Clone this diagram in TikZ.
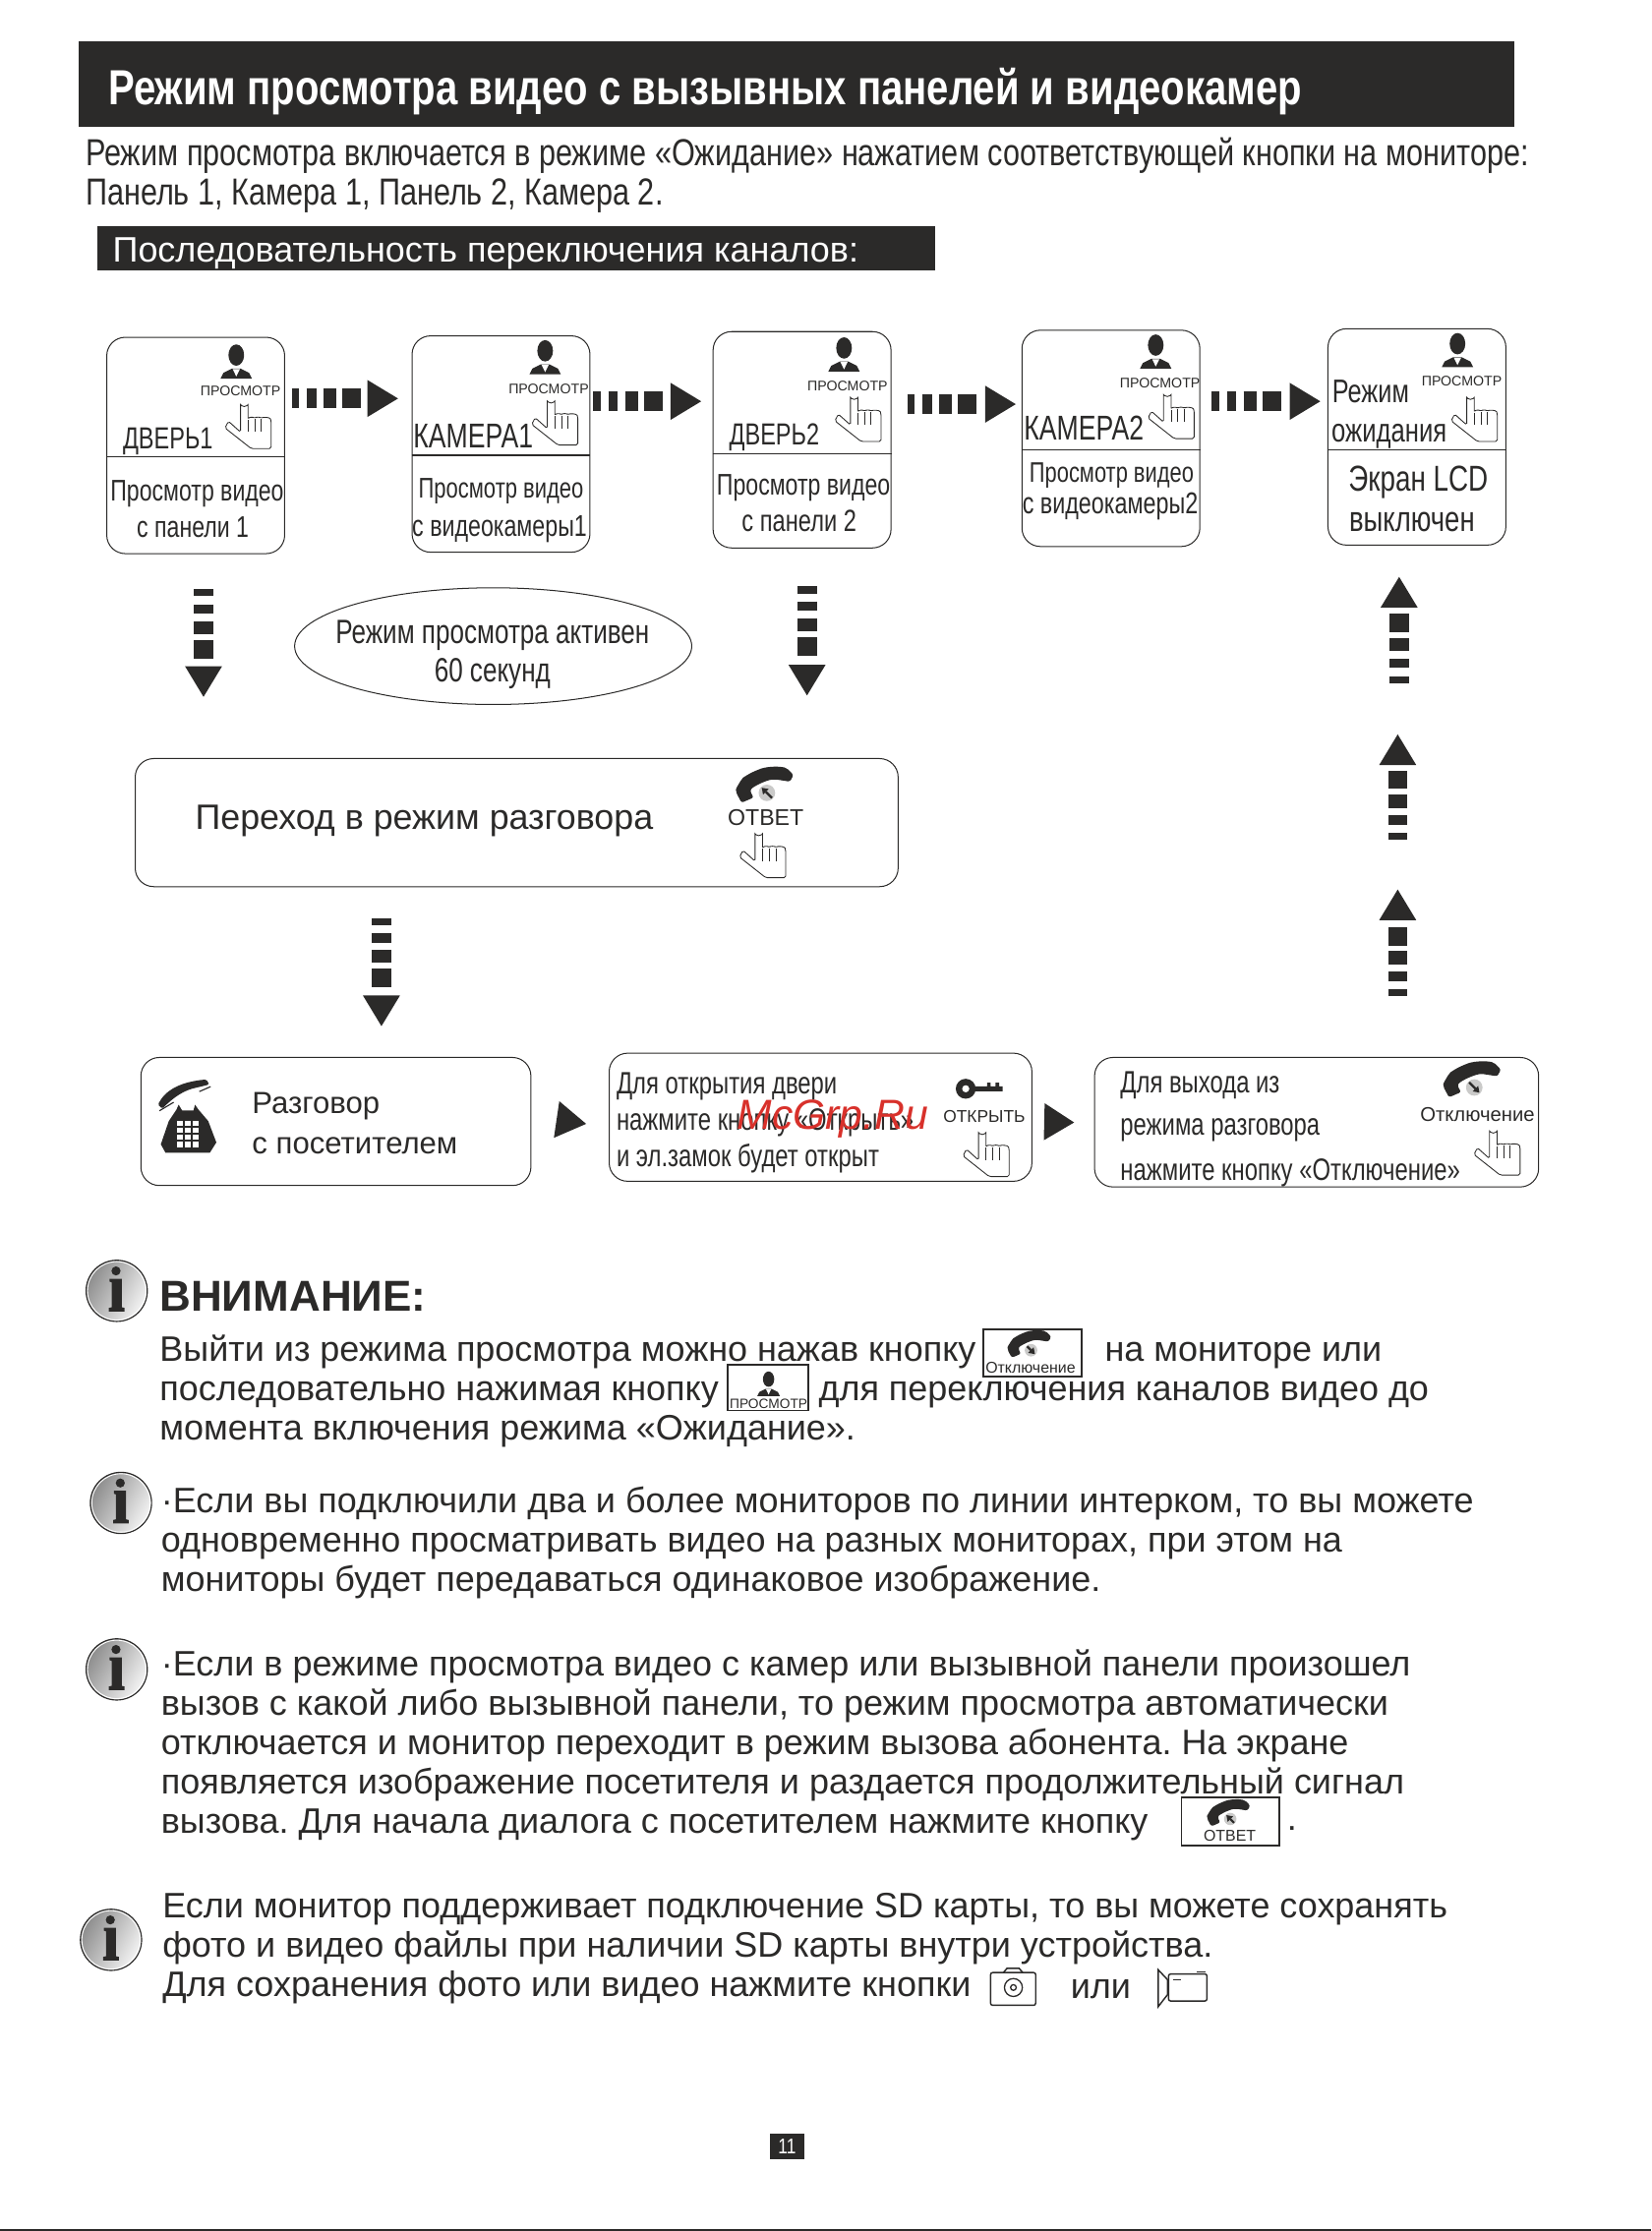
\documentclass[tikz,border=0pt]{standalone}
\usepackage{fontspec}
\setmainfont{Liberation Sans}
\newfontfamily\narrowf[FakeStretch=0.8]{Liberation Sans}
\newfontfamily\condf[FakeStretch=0.76]{Liberation Sans}
\frenchspacing
\usetikzlibrary{arrows.meta,shapes.geometric}
\definecolor{ink}{HTML}{2B2A29}
\definecolor{wmark}{HTML}{D8312B}
\tikzset{
  flowarrow/.style={draw=ink,line width=13.6pt,dash pattern=on 5pt off 5.6pt on 6.7pt off 5pt on 9.4pt off 4pt on 13pt off 30pt,
    -{Triangle[length=21.5pt,width=26pt,line width=0pt]}},
  tipconn/.style={draw=ink,line width=.1pt,dash pattern=on 0pt off 300pt,-{Triangle[length=21pt,width=26pt,line width=0pt]}},
  flowbox/.style={draw=ink,line width=.7pt,rounded corners=13pt,inner sep=0pt},
  btnbox/.style={draw=ink,line width=1.2pt,inner sep=0pt},
  nt/.style={text=ink,inner sep=0pt,yshift={-.1*#1},font=\condf\fontsize{#1}{#1}\selectfont},
  at/.style={text=ink,inner sep=0pt,yshift={-.1*#1},font=\fontsize{#1}{#1}\selectfont},
  para/.style={text=ink,inner sep=0pt,anchor=north west,align=left,font=\fontsize{24.85}{27.7}\selectfont},
  personicon/.pic={
    \fill[ink] (0,-5.5) ellipse (5.5 and 7.5);
    \fill[ink] (-11,11) -- (-9,7) -- (-3,4) -- (3,4) -- (9,7) -- (11,11) -- cycle;
    \fill[white] (-2.5,4.4) -- (2.5,4.4) -- (0,9.5) -- cycle;
  },
  handicon/.pic={
    \draw[ink,line width=.6pt,fill=white,rounded corners=1.2pt] (-2.5,4.1) -- (-2.5,-16.5) arc (180:0:2.65) -- (2.8,-4.6)
      .. controls (3.5,-6.5) and (6.5,-6.5) .. (7.4,-5) .. controls (8.2,-6.5) and (11.2,-6.5) .. (12,-5)
      .. controls (13,-6.5) and (18,-6.5) .. (19,-4) -- (19,15.7) -- (5,15.7) -- (-13.4,1.2) -- (-11,-3.5) -- cycle;
    \draw[ink,line width=.5pt] (2.8,-4.6) -- (2.8,4) (7.4,-5) -- (7.4,4) (12,-5) -- (12,4);
  },
  handseticon/.pic={
    \fill[ink,rounded corners=1.5pt] (20.5,-8.5) -- (15.5,-13.5) .. controls (8,-15) and (0,-14) .. (-4.6,-12)
      .. controls (-10,-10) and (-15,-6.5) .. (-16,-5.5) .. controls (-18,-2) and (-20,1) .. (-20,3.5) -- (-16,11) -- (-7.5,7.4)
      -- (-10,2.8) .. controls (-9,1) and (-7,-.3) .. (-5.8,-1) .. controls (-2,-3) and (3,-5) .. (7,-5.5) -- (18,-3.8) -- cycle;
    \fill[ink!25] (1.8,4.1) circle (5.8);
    \draw[ink,line width=1.5pt,-{Triangle[length=4pt,width=5.5pt,line width=0pt]}] (1.8-3.6*#1,4.1-3.6*#1) -- (1.8+3.6*#1,4.1+3.6*#1);
  },
  keyicon/.pic={
    \fill[ink,even odd rule] (0,0) circle (7) (0,0) circle (2.6);
    \fill[ink] (5,-1.7) rectangle (26,1.7) (15,-4.2) rectangle (17.5,0) (21,-4.2) rectangle (23.5,0);
  },
  phoneicon/.pic={
    \fill[ink] (-19,14) -- (-15.7,20) -- (15.4,20) -- (20,12.7) -- (14.3,-2.3) -- (7.4,-10.4) -- (5,-13.8)
      -- (3.9,-9.7) -- (-4,-9.7) -- (-6.5,-13.8) -- (-8,-10.4) -- (-13.4,-2.3) -- cycle;
    \foreach \r in {0,1,2,3}{\foreach \c in {0,1,2}{
      \fill[white] (-7.6+\c*5.6,-2.3+\r*4.9) rectangle ++(3.9,3.5);}}
    \fill[ink,rounded corners=1pt] (-21,-13.8) .. controls (-16,-24) and (-5,-30) .. (13,-31.5) -- (15,-28)
      -- (7,-26) .. controls (-3,-24) and (-10,-19) .. (-18,-11) -- cycle;
    \draw[ink,line width=.8pt] (-20,-9.5) -- (-10,-15.5) (8,-23) -- (16,-26.5);
  },
  infoicon/.pic={
    \shadedraw[draw=ink,line width=.8pt,left color=black!45,right color=black!4,shading angle=60] (0,0) circle (21.5);
    \draw[white,line width=.6pt] (0,0) circle (20.5);
    \fill[ink] (-.5,-14) circle (3.2);
    \fill[ink] (-5,-8.5) -- (3.5,-8.5) -- (3.5,11.5) -- (5.5,12) -- (5.5,14.5) -- (-5.5,14.5) -- (-5.5,12) -- (-3.5,11.5)
      -- (-3.5,-6) -- (-5,-6.5) -- cycle;
  }
}
\begin{document}
\begin{tikzpicture}[x=1pt,y=-1pt]
\useasboundingbox (0,0) rectangle (1160,1567.6);
\fill[ink] (0,1566.4) rectangle (1160,1567.6);
% headers
\node[fill=ink,inner sep=0pt,minimum width=1009pt,minimum height=60pt,anchor=north west] (titlebar) at (55,29) {};
\node[anchor=west,text=white,inner sep=0pt,font=\narrowf\bfseries\fontsize{34.6}{34.6}\selectfont] (title) at (76,64) {Режим просмотра видео с вызывных панелей и видеокамер};
\node[at=26.4,anchor=west,font=\narrowf\fontsize{26.45}{26.45}\selectfont] (introa) at (60,107) {Режим просмотра включается в режиме «Ожидание» нажатием соответствующей кнопки на мониторе:};
\node[at=26.4,anchor=west,font=\narrowf\fontsize{26.45}{26.45}\selectfont] (introb) at (60,135) {Панель 1, Камера 1, Панель 2, Камера 2.};
\node[fill=ink,inner sep=0pt,minimum width=589pt,minimum height=31pt,anchor=north west] (subbar) at (68,159) {};
\node[anchor=west,text=white,inner sep=0pt,font=\fontsize{24.85}{24.85}\selectfont] (subtitle) at (79,178) {Последовательность переключения каналов:};
% panels
\foreach \nm/\cx/\cy/\ry/\lx/\ly/\px/\py/\hx/\hy in {
  door1/137.5/313/321/169/274/166/255/171.5/299.5,
  cam1/352/312/320/385.5/272/383/252/387/297,
  door2/563.5/309/319/595.5/270/593/250/600/294.5,
  cam2/780.5/308/316/815/268/812/248/820/292.5,
  wait/995.5/307/316/1027/267/1024/247/1033/294.5}{
  \node[flowbox,minimum width=125pt,minimum height=152pt] (\nm) at (\cx,\cy) {};
  \draw[ink,line width=1pt] (\nm.west |- 0,\ry) -- (\nm.east |- 0,\ry);
  \pic at (\px,\py) {personicon};
  \pic at (\hx,\hy) {handicon};
  \node[at=9.8] (\nm lbl) at (\lx,\ly) {ПРОСМОТР};
}
\node[nt=21.4] (door1a) at (118,308) {ДВЕРЬ1};
\node[nt=21] (door1b) at (138.5,345) {Просмотр видео};
\node[nt=21] (door1c) at (135.5,368) {с панели 1};
\node[nt=24.2] (cam1a) at (332.5,304) {КАМЕРА1};
\node[nt=20] (cam1b) at (352,343) {Просмотр видео};
\node[nt=21.1] (cam1c) at (351,370) {с видеокамеры1};
\node[nt=21.4] (door2a) at (544,305) {ДВЕРЬ2};
\node[nt=21] (door2b) at (564.5,341) {Просмотр видео};
\node[nt=21.5] (door2c) at (561.5,364) {с панели 2};
\node[nt=24.2] (cam2a) at (761.5,298.5) {КАМЕРА2};
\node[nt=19.9] (cam2b) at (781,332) {Просмотр видео};
\node[nt=21.2] (cam2c) at (780,354) {с видеокамеры2};
\node[nt=23] (waita) at (963,273) {Режим};
\node[nt=23.3] (waitb) at (976,304) {ожидания};
\node[nt=25.3] (waitc) at (996.5,336.5) {Экран LCD};
\node[nt=25] (waitd) at (992,364) {выключен};
% arrows between panels
\draw[flowarrow,shorten <=4.5pt,shorten >=9.5pt] ([yshift=33pt]door1.east) -- ([yshift=32pt]cam1.west);
\draw[flowarrow,shorten <=2pt,shorten >=8pt] ([yshift=30pt]cam1.east) -- ([yshift=27pt]door2.west);
\draw[flowarrow,shorten <=11pt,shorten >=4pt] ([yshift=25pt]door2.east) -- ([yshift=24pt]cam2.west);
\draw[flowarrow,shorten <=8pt,shorten >=5pt] ([yshift=26pt]cam2.east) -- ([yshift=25pt]wait.west);
% middle
\node[ellipse,draw=ink,line width=.7pt,minimum width=279pt,minimum height=82pt,inner sep=0pt] (active) at (346.5,454) {};
\node[nt=23.7] (activea) at (346,444) {Режим просмотра активен};
\node[nt=23.7] (activeb) at (346,471) {60 секунд};
\node[flowbox,minimum width=536pt,minimum height=90pt] (talk) at (363,578) {};
\node[at=24.75,anchor=west] (talka) at (137,574) {Переход в режим разговора};
\pic at (537,553) {handseticon=-1};
\node[at=16] (talkb) at (538,573) {ОТВЕТ};
\pic at (533,601) {handicon};
\coordinate (dropa) at (143,389);
\coordinate (dropb) at (567,385);
\coordinate (dropc) at (268,623);
\draw[flowarrow,shorten <=25pt,shorten >=43pt] (dropa) -- (dropa |- talk.north);
\draw[flowarrow,shorten <=27pt,shorten >=44pt] (dropb) -- (dropb |- talk.north);
% bottom row
\node[flowbox,minimum width=274pt,minimum height=90pt] (visit) at (236,788) {};
\pic at (132,790) {phoneicon};
\node[at=21.5,anchor=west] (visita) at (177,775) {Разговор};
\node[at=21.5,anchor=west] (visitb) at (177,803) {с посетителем};
\node[flowbox,minimum width=297pt,minimum height=90pt] (open) at (576.5,785) {};
\node[nt=21.7,anchor=west] (opena) at (433,761) {Для открытия двери};
\node[nt=21.7,anchor=west] (openb) at (433,787) {нажмите кнопку «Открыть»};
\node[nt=21.7,anchor=west] (openc) at (433,812) {и эл.замок будет открыт};
\pic at (678.5,765) {keyicon};
\node[at=12] (openl) at (691.5,783.5) {ОТКРЫТЬ};
\pic at (690,811) {handicon};
\node[flowbox,minimum width=312pt,minimum height=91pt] (leave) at (925,788.5) {};
\node[nt=21.7,anchor=west] (leavea) at (787,760.5) {Для выхода из};
\node[nt=21.7,anchor=west] (leaveb) at (787,792) {режима разговора};
\node[nt=21.7,anchor=west] (leavec) at (787,822) {нажмите кнопку «Отключение»};
\pic at (1034,760) {handseticon=1};
\node[at=14] (leavel) at (1038,782) {Отключение};
\pic at (1049,810) {handicon};
\draw[flowarrow,shorten >=22pt] (dropc) ++(0,22) -- (268,743);
\draw[tipconn,shorten <=18pt,shorten >=16pt] ([yshift=4pt]visit.east) -- ([yshift=-7pt]open.west);
\draw[tipconn,shorten <=9pt,shorten >=14pt] ([yshift=-3pt]open.east) -- ([yshift=-0.5pt]leave.west);
\coordinate (risea) at (982,700);
\coordinate (riseb) at (982,590);
\coordinate (risec) at (983,480);
\draw[flowarrow] (risea) -- (982,625);
\draw[flowarrow] (riseb) -- (982,516);
\draw[flowarrow,shorten >=22pt] (risec) -- (risec |- wait.south);
\node[text=wmark,inner sep=0pt,font=\itshape\fontsize{29.5}{29.5}\selectfont] (wm) at (585,786) {McGrp.Ru};
% notes
\pic at (82,907) {infoicon};
\node[text=ink,inner sep=0pt,anchor=west,font=\bfseries\fontsize{30.4}{30.4}\selectfont] (warn) at (112,911) {ВНИМАНИЕ:};
\node[para] (notea) at (112,938) {Выйти из режима просмотра можно нажав кнопку\\последовательно нажимая кнопку\\момента включения режима «Ожидание».};
\node[at=24.85,anchor=west] (noteb) at (776,950) {на мониторе или};
\node[at=24.85,anchor=west] (notec) at (575,977.5) {для переключения каналов видео до};
\node[btnbox,minimum width=69pt,minimum height=33pt] (btna) at (725.5,950.5) {};
\pic[scale=.76] at (723,945.6) {handseticon=1};
\node[at=11] (btnat) at (724,960) {Отключение};
\node[btnbox,minimum width=57pt,minimum height=32pt] (btnb) at (539.5,975) {};
\pic[scale=.72] at (540,973) {personicon};
\node[at=9.5] (btnbt) at (540,985.5) {ПРОСМОТР};
\pic at (85,1056) {infoicon};
\node[para] (noted) at (113,1044.5) {·Если вы подключили два и более мониторов по линии интерком, то вы можете\\одновременно просматривать видео на разных мониторах, при этом на\\мониторы будет передаваться одинаковое изображение.};
\pic at (82,1173) {infoicon};
\node[para] (notee) at (113,1159) {·Если в режиме просмотра видео с камер или вызывной панели произошел\\вызов с какой либо вызывной панели, то режим просмотра автоматически\\отключается и монитор переходит в режим вызова абонента. На экране\\появляется изображение посетителя и раздается продолжительный сигнал\\вызова. Для начала диалога с посетителем нажмите кнопку};
\node[btnbox,minimum width=69pt,minimum height=34pt] (btnc) at (864.5,1280) {};
\pic[scale=.75] at (863,1275) {handseticon=-1};
\node[at=11] (btnct) at (864,1289) {ОТВЕТ};
\node[at=24.85,anchor=west] (notef) at (904,1282) {.};
\pic at (78,1363) {infoicon};
\node[para] (noteg) at (114,1330) {Если монитор поддерживает подключение SD карты, то вы можете сохранять\\фото и видео файлы при наличии SD карты внутри устройства.\\Для сохранения фото или видео нажмите кнопки};
\node[at=24.85,anchor=west] (noteh) at (752,1395.5) {или};
\node[draw=ink,line width=1pt,rounded corners=1.5pt,minimum width=31.7pt,minimum height=23pt,inner sep=0pt] (cam) at (711.8,1397.5) {};
\draw[ink,line width=1pt] (705,1386) -- (707.5,1383) -- (716,1383) -- (718.5,1386);
\draw[ink,line width=.9pt] (712,1396.5) circle (6.3);
\draw[ink,line width=.9pt] (712,1396.5) circle (2);
\node[draw=ink,line width=1pt,rounded corners=1.5pt,minimum width=27pt,minimum height=19pt,inner sep=0pt] (card) at (834.5,1396.5) {};
\draw[ink,line width=1pt] (813.7,1384) -- (820.3,1391) -- (820.3,1401.5) -- (813.7,1410) -- cycle;
\draw[ink,line width=.7pt] (824.5,1391) -- (830,1391) (841,1385.5) -- (847,1385.5);
\node[fill=ink,inner sep=0pt,minimum width=24pt,minimum height=18pt] (pagebox) at (553,1508) {};
\node[text=white,inner sep=0pt,font=\narrowf\fontsize{15}{15}\selectfont] (pageno) at (553,1508) {11};
\end{tikzpicture}
\end{document}
